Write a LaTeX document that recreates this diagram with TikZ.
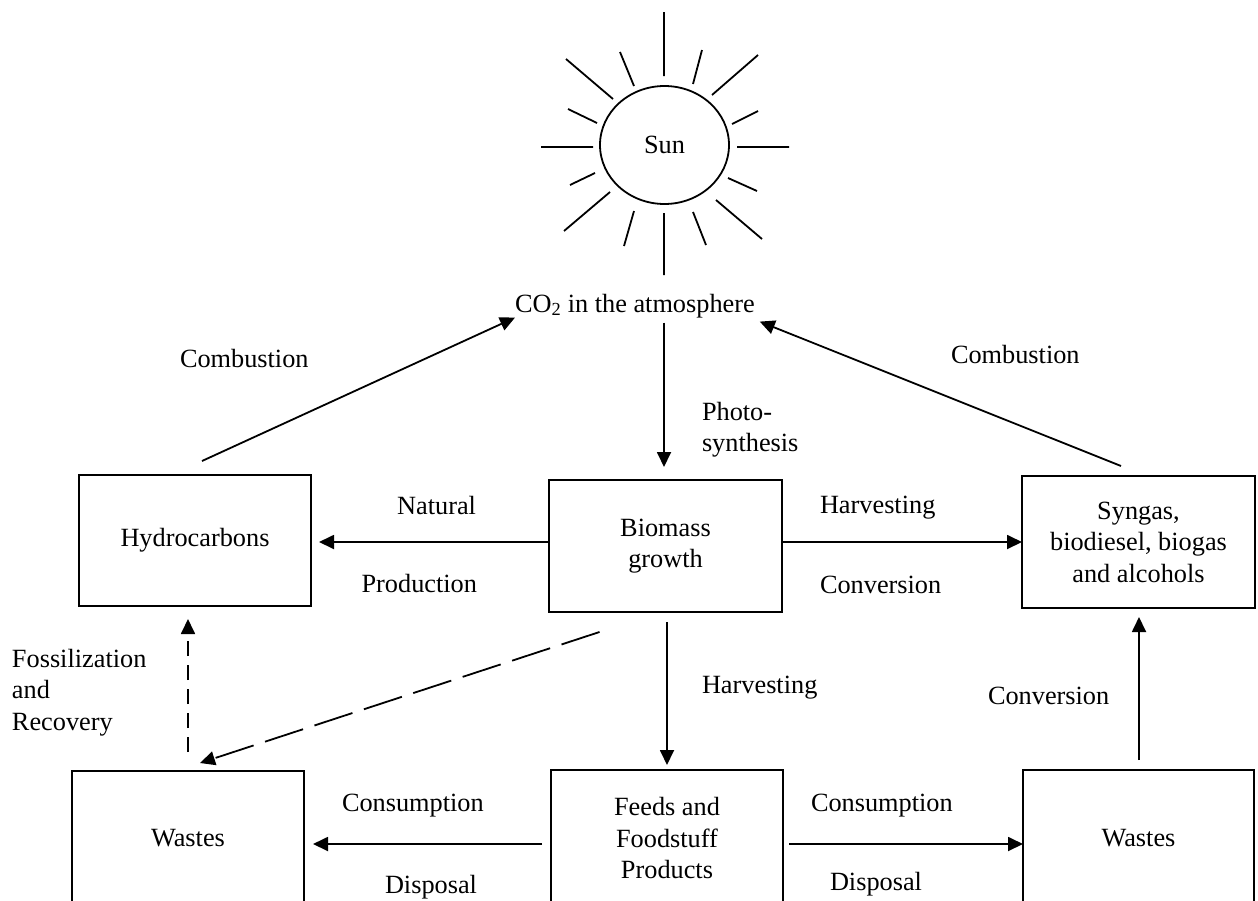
\documentclass[tikz,border=0pt]{standalone}
\usepackage{fontspec}
\setmainfont{Liberation Serif}
\usetikzlibrary{arrows.meta,shapes.geometric,calc}
\begin{document}
\begin{tikzpicture}[x=1pt,y=-1pt,
  every node/.style={font=\fontsize{26.3pt}{31.5pt}\selectfont},
  box/.style={draw, line width=1.8pt, inner sep=0pt, outer sep=0pt, align=center},
  lbl/.style={inner sep=0pt, outer sep=0pt},
  conn/.style={line width=1.8pt},
  arr/.style={conn, -{Triangle[length=15pt,width=14pt]}},
  ray/.style={line width=1.8pt},
  shortdash/.style={dash pattern=on 15pt off 9pt},
  longdash/.style={dash pattern=on 40pt off 12pt},
]
\path[use as bounding box] (0,0) rectangle (1258,900);
\clip (0,0) rectangle (1258,900);

% Sun
\node[box, ellipse, minimum width=129pt, minimum height=118pt] (sun) at (664.5,145) {Sun};
\draw[ray] (664,12)--(664,76) (664,213)--(664,275) (541,147)--(593,147) (737,147)--(789,147)
  (566,59)--(613,99) (758,55)--(712,95) (610,192)--(564,231) (716,200)--(762,239)
  (620,52)--(634,86) (702,50)--(693,84) (568,109)--(597,123) (758,111)--(732,124)
  (595,173)--(570,185) (728,178)--(757,191) (634,211)--(624,246) (693,212)--(706,245);

% main nodes
\node[lbl, anchor=base west] (co2) at (515,312) {CO\textsubscript{2} in the atmosphere};
\node[box, minimum width=232pt, minimum height=131pt] (hyd) at (195,540.5) {Hydrocarbons};
\node[box, minimum width=233pt, minimum height=132pt] (bio) at (665.5,546) {Biomass\\growth};
\node[box, minimum width=233pt, minimum height=132pt] (syn) at (1138.5,542) {Syngas,\\biodiesel, biogas\\and alcohols};
\node[box, minimum width=232pt, minimum height=135pt] (wl) at (188,838.5) {Wastes};
\node[box, minimum width=232pt, minimum height=136pt] (feed) at (667,838) {Feeds and\\Foodstuff\\Products};
\node[box, minimum width=231pt, minimum height=136pt] (wr) at (1138.5,838) {Wastes};

% labels
\node[lbl, anchor=base west] at (180,367) {Combustion};
\node[lbl, anchor=base west] at (951,363) {Combustion};
\node[lbl, anchor=north west, align=left] at (702,402) {Photo-\\synthesis};
\node[lbl, anchor=base east] at (476,514) {Natural};
\node[lbl, anchor=base east] at (477,592) {Production};
\node[lbl, anchor=base west] at (820,513) {Harvesting};
\node[lbl, anchor=base west] at (820,593) {Conversion};
\node[lbl, anchor=base west] at (702,693) {Harvesting};
\node[lbl, anchor=north west, align=left] at (12,649) {Fossilization\\and\\Recovery};
\node[lbl, anchor=base west] at (988,704) {Conversion};
\node[lbl, anchor=base west] at (342,811) {Consumption};
\node[lbl, anchor=base west] at (385,893) {Disposal};
\node[lbl, anchor=base west] at (811,811) {Consumption};
\node[lbl, anchor=base west] at (830,890) {Disposal};

% connectors
\draw[arr] ($(hyd.north)+(7,-14)$) -- (co2.south west);
\draw[arr] ($(syn.north)+(-17.5,-10)$) -- ($(co2.south east)+(5,4)$);
\draw[arr, shorten <=5pt, shorten >=13pt] ([xshift=-1.5pt]bio.north |- co2.south) -- ([xshift=-1.5pt]bio.north);
\draw[arr, shorten >=8pt] ([yshift=4pt]bio.west) coordinate (bw) -- (bw -| hyd.east);
\draw[arr] (bio.east |- syn.west) -- (syn.west);
\draw[arr, shorten <=10pt, shorten >=5pt] (feed.north |- bio.south) -- (feed.north);
\draw[arr, shorten <=9pt, shorten >=9pt] ([yshift=-6pt]feed.west) coordinate (fw) -- (fw -| wl.east);
\draw[arr, shorten <=6pt] ([yshift=-6pt]feed.east) coordinate (fe) -- (fe -| wr.west);
\draw[arr, shorten <=10pt, shorten >=9pt] ([xshift=0.5pt]wr.north) -- ([xshift=0.5pt]syn.south);
\draw[arr, shortdash, shorten <=19pt, shorten >=13pt] (wl.north) -- (wl.north |- hyd.south);
\draw[arr, longdash] ($(bio.south)+(-66,20)$) -- ($(wl.north)+(12,-8)$);
\end{tikzpicture}
\end{document}
